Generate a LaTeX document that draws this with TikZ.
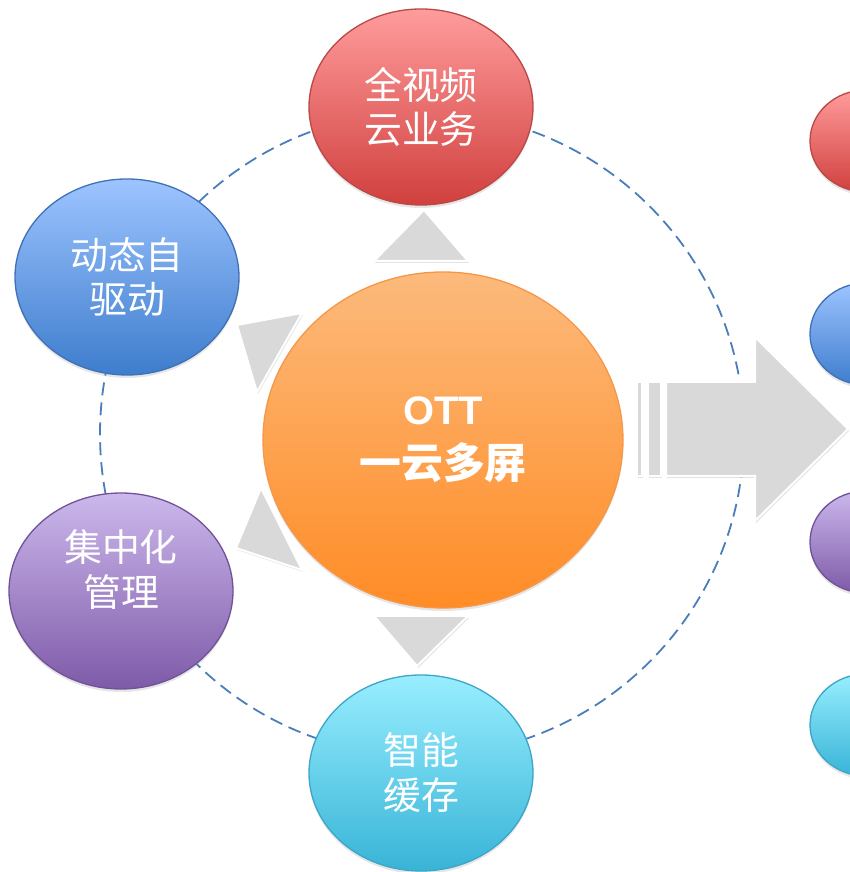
\documentclass[tikz,border=0pt]{standalone}
\usepackage{fontspec}
\newfontfamily\cjk{Noto Sans CJK SC}
\newfontfamily\latinsans{Liberation Sans}
\usetikzlibrary{shapes.geometric,shadows}
\definecolor{ringblue}{RGB}{74,126,187}
\definecolor{triangray}{RGB}{217,217,217}
\definecolor{orangetop}{RGB}{252,186,124}
\definecolor{orangebot}{RGB}{255,140,38}
\definecolor{orangeline}{RGB}{247,150,70}
\definecolor{redtop}{RGB}{255,156,156}
\definecolor{redbot}{RGB}{208,64,62}
\definecolor{redline}{RGB}{185,72,70}
\definecolor{bluetop}{RGB}{157,196,255}
\definecolor{bluebot}{RGB}{62,125,205}
\definecolor{blueline}{RGB}{64,112,182}
\definecolor{purptop}{RGB}{204,184,236}
\definecolor{purpbot}{RGB}{126,90,168}
\definecolor{purpline}{RGB}{112,82,152}
\definecolor{cyantop}{RGB}{152,238,255}
\definecolor{cyanbot}{RGB}{56,180,215}
\definecolor{cyanline}{RGB}{60,165,200}
\begin{document}
\begin{tikzpicture}[>=latex,line join=bevel,
  bubble/.style={ellipse,draw,line width=1.3bp,text=white,align=center,inner sep=0pt,
    drop shadow={opacity=0.2,shadow xshift=0bp,shadow yshift=-3bp}},
  big/.style={bubble,minimum width=224bp,minimum height=196bp,
    font=\cjk\fontsize{38}{45}\selectfont},
  small/.style={bubble,minimum width=112bp,minimum height=102bp},
  tri/.style={fill=triangray,draw=white,line width=2bp,line join=miter,
    drop shadow={opacity=0.22,shadow xshift=1bp,shadow yshift=-2bp}},
]
%%
\useasboundingbox (0bp,0bp) rectangle (850bp,872bp);
\node (ring) at (422.0bp,438.0bp) [circle,draw=ringblue,line width=1.8bp,dash pattern=on 13bp off 7bp,minimum size=644bp] {};
%
  \draw [tri] (424.0bp,662.0bp) -- (374.0bp,611.0bp) -- (468.0bp,611.0bp) -- cycle;
  \draw [tri] (237.0bp,547.0bp) -- (302.0bp,559.0bp) -- (257.0bp,480.0bp) -- cycle;
  \draw [tri] (236.0bp,324.0bp) -- (302.0bp,302.0bp) -- (261.0bp,384.0bp) -- cycle;
  \draw [tri] (374.0bp,256.0bp) -- (468.0bp,256.0bp) -- (417.0bp,206.0bp) -- cycle;
  \draw [tri] (637.0bp,490.0bp) rectangle (642.0bp,396.0bp);
  \draw [tri] (648.0bp,490.0bp) rectangle (661.0bp,396.0bp);
  \draw [tri] (666.0bp,490.0bp) -- (755.0bp,490.0bp) -- (755.0bp,535.0bp) -- (848.0bp,443.0bp)
    -- (755.0bp,351.0bp) -- (755.0bp,396.0bp) -- (666.0bp,396.0bp) -- cycle;
%
\node (node_0) at (443.0bp,432.0bp) [bubble,draw=orangeline,top color=orangetop,bottom color=orangebot,
    minimum width=360bp,minimum height=336bp,font=\cjk\bfseries\fontsize{42}{54}\selectfont]
    {{\latinsans\bfseries\fontsize{40}{54}\selectfont OTT}\\一云多屏};
  \node (node_1) at (421.0bp,765.0bp) [big,draw=redline,top color=redtop,bottom color=redbot] {全视频\\云业务};
  \node (node_2) at (127.0bp,595.0bp) [big,draw=blueline,top color=bluetop,bottom color=bluebot] {动态自\\驱动};
  \node (node_3) at (121.0bp,281.0bp) [big,text depth=46bp,draw=purpline,top color=purptop,bottom color=purpbot] {集中化\\管理};
  \node (node_4) at (421.0bp,99.0bp) [big,draw=cyanline,top color=cyantop,bottom color=cyanbot] {智能\\缓存};
  \node (node_5) at (866.0bp,731.0bp) [small,draw=redline,top color=redtop,bottom color=redbot] {};
  \node (node_6) at (866.0bp,538.0bp) [small,draw=blueline,top color=bluetop,bottom color=bluebot] {};
  \node (node_7) at (866.0bp,330.0bp) [small,draw=purpline,top color=purptop,bottom color=purpbot] {};
  \node (node_8) at (866.0bp,147.0bp) [small,draw=cyanline,top color=cyantop,bottom color=cyanbot] {};
%
\end{tikzpicture}
\end{document}
